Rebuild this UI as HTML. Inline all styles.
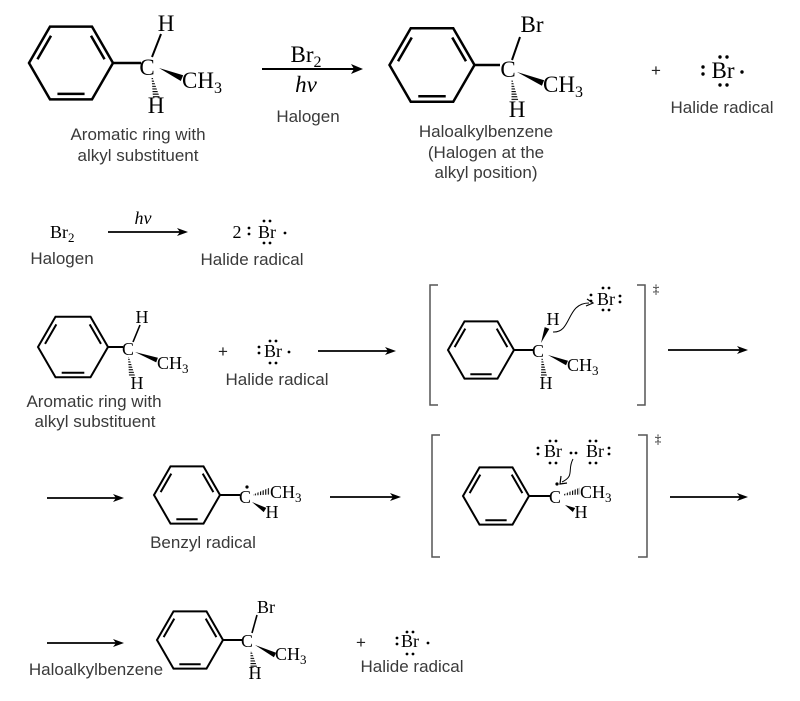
<!DOCTYPE html>
<html><head><meta charset="utf-8"><style>
html,body{margin:0;padding:0;background:#fff;}
svg{display:block;}
.s{font-family:"Liberation Serif",serif;fill:#000;}
.l{font-family:"Liberation Sans",sans-serif;fill:#3a3a3a;font-size:17px;}
</style></head><body>
<svg width="800" height="701" viewBox="0 0 800 701" xmlns="http://www.w3.org/2000/svg">
<defs>
<g id="bz"><path d="M1,0 L0.5,0.866 L-0.5,0.866 L-1,0 L-0.5,-0.866 L0.5,-0.866 Z M0.476,-0.648 L0.799,-0.088 M0.323,0.736 L-0.323,0.736 M-0.799,-0.088 L-0.476,-0.648" fill="none" stroke="#000" vector-effect="non-scaling-stroke"/></g>
<pattern id="hh" width="4" height="2.6" patternUnits="userSpaceOnUse"><rect width="4" height="1.1" fill="#000"/></pattern>
<pattern id="hv" width="2.6" height="4" patternUnits="userSpaceOnUse"><rect width="1.1" height="4" fill="#000"/></pattern>
</defs>

<!-- ===== Row 1 ===== -->
<use href="#bz" transform="translate(71,63) scale(42)" stroke-width="2.5"/>
<line x1="113" y1="63" x2="141" y2="63" stroke="#000" stroke-width="2.5"/>
<text class="s" x="147" y="75" font-size="23" text-anchor="middle">C</text>
<line x1="152" y1="57" x2="161" y2="34" stroke="#000" stroke-width="2"/>
<text class="s" x="166" y="31" font-size="23" text-anchor="middle">H</text>
<polygon points="151.5,77 152.5,77 160,98 153,98" fill="url(#hh)"/>
<text class="s" x="156" y="113" font-size="23" text-anchor="middle">H</text>
<polygon points="159,68 183.2,75.3 180.8,81" fill="#000"/>
<text class="s" x="182" y="88" font-size="23">CH<tspan font-size="16" dy="5">3</tspan></text>

<line x1="262" y1="69" x2="355" y2="69" stroke="#000" stroke-width="2"/>
<polygon points="363,69 351,64 354,69 351,74" fill="#000"/>
<text class="s" x="306" y="62" font-size="23" text-anchor="middle">Br<tspan font-size="16" dy="5">2</tspan></text>
<text class="s" x="306" y="92" font-size="23" font-style="italic" text-anchor="middle">hν</text>
<text class="l" x="308" y="122" text-anchor="middle">Halogen</text>

<text class="l" x="138" y="140" text-anchor="middle">Aromatic ring with</text>
<text class="l" x="138" y="161" text-anchor="middle">alkyl substituent</text>

<use href="#bz" transform="translate(432,65) scale(42.5)" stroke-width="2.5"/>
<line x1="474" y1="65" x2="500" y2="65" stroke="#000" stroke-width="2.5"/>
<text class="s" x="508" y="77" font-size="23" text-anchor="middle">C</text>
<line x1="512" y1="60" x2="520" y2="37" stroke="#000" stroke-width="2"/>
<text class="s" x="532" y="32" font-size="23" text-anchor="middle">Br</text>
<polygon points="517,72 541.9,85.8 544.1,80.2" fill="#000"/>
<text class="s" x="543" y="92" font-size="23">CH<tspan font-size="16" dy="5">3</tspan></text>
<polygon points="511.5,80 512.5,80 518.5,101 511.5,101" fill="url(#hh)"/>
<text class="s" x="517" y="117" font-size="23" text-anchor="middle">H</text>
<text class="l" x="486" y="137" text-anchor="middle">Haloalkylbenzene</text>
<text class="l" x="486" y="158" text-anchor="middle">(Halogen at the</text>
<text class="l" x="486" y="178" text-anchor="middle">alkyl position)</text>

<text class="l" x="656" y="76" font-size="23" text-anchor="middle" style="fill:#222">+</text>
<text class="s" x="723" y="78" font-size="23" text-anchor="middle">Br</text>
<g fill="#000">
<circle cx="703" cy="67" r="1.7"/><circle cx="703" cy="74" r="1.7"/>
<circle cx="720" cy="57" r="1.7"/><circle cx="727" cy="57" r="1.7"/>
<circle cx="720" cy="85" r="1.7"/><circle cx="727" cy="85" r="1.7"/>
<circle cx="742" cy="72" r="1.7"/>
</g>
<text class="l" x="722" y="113" text-anchor="middle">Halide radical</text>

<!-- ===== Row 2 ===== -->
<text class="s" x="50" y="238" font-size="18">Br<tspan font-size="13" dy="4">2</tspan></text>
<text class="l" x="62" y="264" text-anchor="middle">Halogen</text>
<line x1="108" y1="232" x2="180" y2="232" stroke="#000" stroke-width="1.8"/>
<polygon points="188,232 177,228 180,232 177,236" fill="#000"/>
<text class="s" x="143" y="224" font-size="18" font-style="italic" text-anchor="middle">hν</text>
<text class="s" x="237" y="238" font-size="18" text-anchor="middle">2</text>
<text class="s" x="267" y="238" font-size="18" text-anchor="middle">Br</text>
<g fill="#000">
<circle cx="249" cy="228" r="1.4"/><circle cx="249" cy="234" r="1.4"/>
<circle cx="264" cy="221" r="1.4"/><circle cx="270" cy="221" r="1.4"/>
<circle cx="264" cy="243" r="1.4"/><circle cx="270" cy="243" r="1.4"/>
<circle cx="285" cy="233" r="1.4"/>
</g>
<text class="l" x="252" y="265" text-anchor="middle">Halide radical</text>

<!-- ===== Row 3 ===== -->
<use href="#bz" transform="translate(73,347) scale(35)" stroke-width="2"/>
<line x1="108" y1="347" x2="123" y2="347" stroke="#000" stroke-width="2"/>
<text class="s" x="128" y="355" font-size="18" text-anchor="middle">C</text>
<line x1="133" y1="342" x2="140" y2="325" stroke="#000" stroke-width="1.6"/>
<text class="s" x="142" y="323" font-size="18" text-anchor="middle">H</text>
<polygon points="135,352 156.2,362.4 157.9,357.7" fill="#000"/>
<text class="s" x="157" y="369" font-size="18">CH<tspan font-size="13" dy="4">3</tspan></text>
<polygon points="128,357 129,357 135,376 129,376" fill="url(#hh)"/>
<text class="s" x="137" y="389" font-size="18" text-anchor="middle">H</text>
<text class="l" x="94" y="407" text-anchor="middle">Aromatic ring with</text>
<text class="l" x="95" y="427" text-anchor="middle">alkyl substituent</text>
<text class="l" x="223" y="357" font-size="18" text-anchor="middle" style="fill:#222">+</text>
<text class="s" x="273" y="357" font-size="18" text-anchor="middle">Br</text>
<g fill="#000">
<circle cx="259" cy="347" r="1.4"/><circle cx="259" cy="353" r="1.4"/>
<circle cx="270" cy="341" r="1.4"/><circle cx="276" cy="341" r="1.4"/>
<circle cx="270" cy="363" r="1.4"/><circle cx="276" cy="363" r="1.4"/>
<circle cx="289" cy="352" r="1.4"/>
</g>
<text class="l" x="277" y="385" text-anchor="middle">Halide radical</text>
<line x1="318" y1="351" x2="388" y2="351" stroke="#000" stroke-width="1.8"/>
<polygon points="396,351 385,347 388,351 385,355" fill="#000"/>

<!-- bracket 1 -->
<path d="M438,285 H430 V405 H438 M637,285 H645 V405 H637" fill="none" stroke="#555" stroke-width="1.5"/>
<text class="s" x="656" y="293" font-size="13" text-anchor="middle">‡</text>
<use href="#bz" transform="translate(481,350) scale(33)" stroke-width="2"/>
<line x1="514" y1="350" x2="533" y2="350" stroke="#000" stroke-width="2"/>
<text class="s" x="538" y="357" font-size="18" text-anchor="middle">C</text>
<text class="s" x="553" y="325" font-size="18" text-anchor="middle">H</text>
<polygon points="541,343 549.3,328.9 544.7,327.1" fill="#000"/>
<polygon points="541.5,358 542.5,358 547,376 541,376" fill="url(#hh)"/>
<text class="s" x="546" y="389" font-size="18" text-anchor="middle">H</text>
<polygon points="548,355 566,365.3 568,360.7" fill="#000"/>
<text class="s" x="567" y="371" font-size="18">CH<tspan font-size="13" dy="4">3</tspan></text>
<text class="s" x="606" y="305" font-size="18" text-anchor="middle">Br</text>
<g fill="#000">
<circle cx="591" cy="295" r="1.4"/><circle cx="591" cy="301" r="1.4"/>
<circle cx="603" cy="288" r="1.4"/><circle cx="609" cy="288" r="1.4"/>
<circle cx="603" cy="310" r="1.4"/><circle cx="609" cy="310" r="1.4"/>
<circle cx="620" cy="296" r="1.4"/><circle cx="620" cy="302" r="1.4"/>
</g>
<path d="M553,332 C572,333 566,303 589,303" fill="none" stroke="#000" stroke-width="1"/>
<path d="M587,299 L593,303 L586,306" fill="none" stroke="#000" stroke-width="1.2"/>
<line x1="668" y1="350" x2="740" y2="350" stroke="#000" stroke-width="1.8"/>
<polygon points="748,350 737,346 740,350 737,354" fill="#000"/>

<!-- ===== Row 4 ===== -->
<line x1="47" y1="498" x2="116" y2="498" stroke="#000" stroke-width="1.8"/>
<polygon points="124,498 113,494 116,498 113,502" fill="#000"/>
<use href="#bz" transform="translate(187,495) scale(33)" stroke-width="2"/>
<line x1="220" y1="495" x2="240" y2="495" stroke="#000" stroke-width="2"/>
<text class="s" x="245" y="503" font-size="18" text-anchor="middle">C</text>
<circle cx="247" cy="487" r="1.6" fill="#000"/>
<polygon points="253,494.5 270,487.5 270,494.5 253,495.5" fill="url(#hv)"/>
<text class="s" x="270" y="498" font-size="18">CH<tspan font-size="13" dy="4">3</tspan></text>
<polygon points="252,502 263.7,512.1 266.3,507.9" fill="#000"/>
<text class="s" x="272" y="518" font-size="18" text-anchor="middle">H</text>
<text class="l" x="203" y="548" text-anchor="middle">Benzyl radical</text>
<line x1="330" y1="497" x2="393" y2="497" stroke="#000" stroke-width="1.8"/>
<polygon points="401,497 390,493 393,497 390,501" fill="#000"/>

<!-- bracket 2 -->
<path d="M440,435 H432 V557 H440 M638,435 H647 V557 H638" fill="none" stroke="#555" stroke-width="1.5"/>
<text class="s" x="658" y="443" font-size="13" text-anchor="middle">‡</text>
<use href="#bz" transform="translate(496,496) scale(33)" stroke-width="2"/>
<line x1="529" y1="496" x2="550" y2="496" stroke="#000" stroke-width="2"/>
<text class="s" x="555" y="503" font-size="18" text-anchor="middle">C</text>
<circle cx="557" cy="484" r="1.6" fill="#000"/>
<polygon points="563,494.5 580,487.5 580,494.5 563,495.5" fill="url(#hv)"/>
<text class="s" x="580" y="498" font-size="18">CH<tspan font-size="13" dy="4">3</tspan></text>
<polygon points="565,505 572.8,512 575.2,508" fill="#000"/>
<text class="s" x="581" y="518" font-size="18" text-anchor="middle">H</text>
<text class="s" x="553" y="457" font-size="18" text-anchor="middle">Br</text>
<text class="s" x="595" y="457" font-size="18" text-anchor="middle">Br</text>
<g fill="#000">
<circle cx="538" cy="448" r="1.4"/><circle cx="538" cy="454" r="1.4"/>
<circle cx="550" cy="441" r="1.4"/><circle cx="556" cy="441" r="1.4"/>
<circle cx="550" cy="463" r="1.4"/><circle cx="556" cy="463" r="1.4"/>
<circle cx="571" cy="453" r="1.4"/><circle cx="576" cy="453" r="1.4"/>
<circle cx="590" cy="441" r="1.4"/><circle cx="596" cy="441" r="1.4"/>
<circle cx="590" cy="463" r="1.4"/><circle cx="596" cy="463" r="1.4"/>
<circle cx="609" cy="448" r="1.4"/><circle cx="609" cy="454" r="1.4"/>
</g>
<path d="M573,459 C567,470 575,476 562,482" fill="none" stroke="#000" stroke-width="1"/>
<path d="M561,476 L560,484 L567,483" fill="none" stroke="#000" stroke-width="1.2"/>
<line x1="670" y1="497" x2="740" y2="497" stroke="#000" stroke-width="1.8"/>
<polygon points="748,497 737,493 740,497 737,501" fill="#000"/>

<!-- ===== Row 5 ===== -->
<line x1="47" y1="643" x2="116" y2="643" stroke="#000" stroke-width="1.8"/>
<polygon points="124,643 113,639 116,643 113,647" fill="#000"/>
<text class="l" x="96" y="675" text-anchor="middle">Haloalkylbenzene</text>
<use href="#bz" transform="translate(190,640) scale(33)" stroke-width="2"/>
<line x1="223" y1="640" x2="242" y2="640" stroke="#000" stroke-width="2"/>
<text class="s" x="247" y="647" font-size="18" text-anchor="middle">C</text>
<line x1="252" y1="633" x2="257" y2="615" stroke="#000" stroke-width="1.6"/>
<text class="s" x="266" y="613" font-size="18" text-anchor="middle">Br</text>
<polygon points="255,645 273.9,657.2 276.1,652.8" fill="#000"/>
<text class="s" x="275" y="660" font-size="18">CH<tspan font-size="13" dy="4">3</tspan></text>
<polygon points="250.5,651 251.5,651 257.5,668 250.5,668" fill="url(#hh)"/>
<text class="s" x="255" y="679" font-size="18" text-anchor="middle">H</text>
<text class="l" x="361" y="648" font-size="18" text-anchor="middle" style="fill:#222">+</text>
<text class="s" x="410" y="647" font-size="18" text-anchor="middle">Br</text>
<g fill="#000">
<circle cx="397" cy="638" r="1.4"/><circle cx="397" cy="644" r="1.4"/>
<circle cx="407" cy="632" r="1.4"/><circle cx="413" cy="632" r="1.4"/>
<circle cx="407" cy="654" r="1.4"/><circle cx="413" cy="654" r="1.4"/>
<circle cx="428" cy="643" r="1.4"/>
</g>
<text class="l" x="412" y="672" text-anchor="middle">Halide radical</text>
</svg>
</body></html>
